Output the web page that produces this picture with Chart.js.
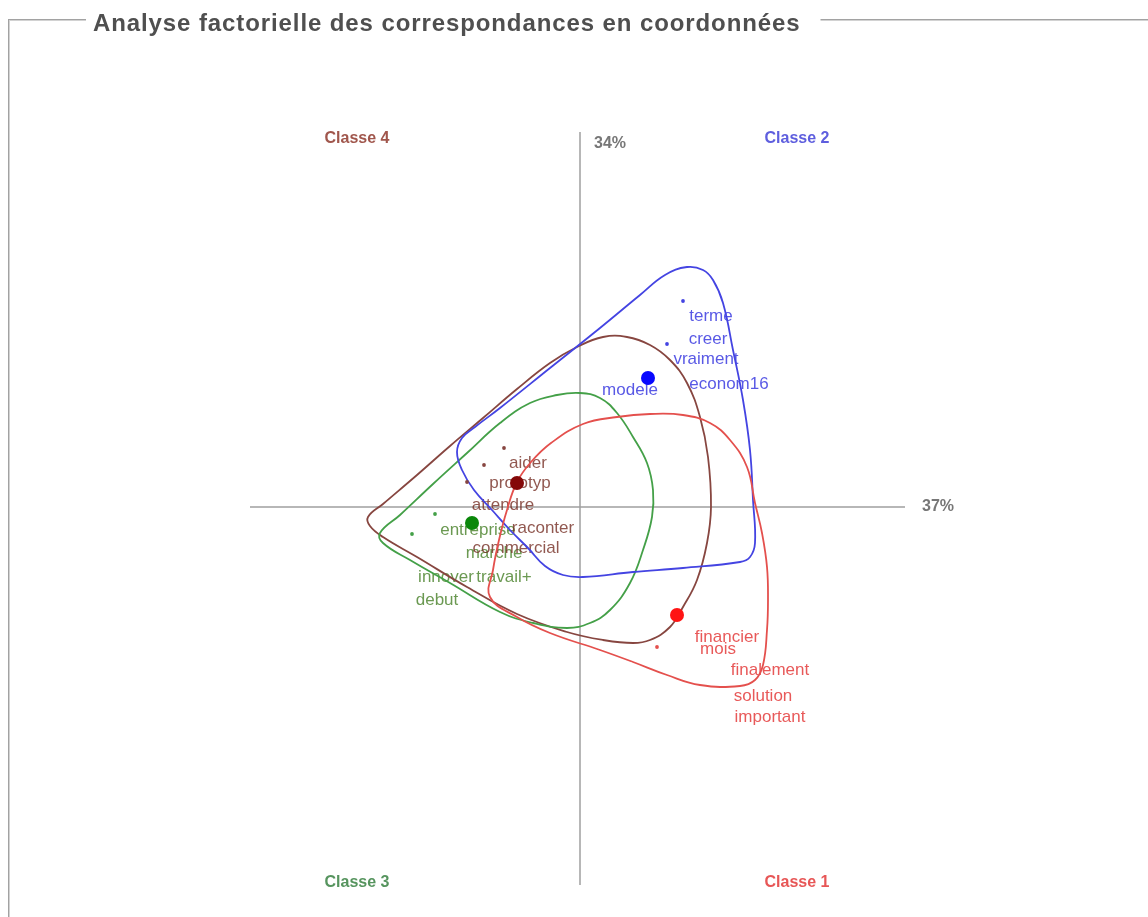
<!DOCTYPE html>
<html lang="fr">
<head>
<meta charset="utf-8">
<title>Analyse factorielle des correspondances</title>
<script src="https://cdn.jsdelivr.net/npm/chart.js@4.4.1/dist/chart.umd.min.js"></script>
<style>
  html, body { margin: 0; padding: 0; background: #fff; overflow: hidden; }
  canvas { display: block; }
</style>
</head>
<body>
<canvas id="afc" width="1148" height="917"></canvas>
<script>
// ---- data (factor coordinates) ----
const chartTitle = 'Analyse factorielle des correspondances en coordonnées';
const axisPercents = ['37%', '34%'];          // axis 1 (horizontal), axis 2 (vertical)
const xRange = [-0.66, 0.65];
const yRange = [-0.756, 0.75];

const classNames = ['Classe 1', 'Classe 2', 'Classe 3', 'Classe 4'];
const classNameX = [0.434, 0.434, -0.446, -0.446];
const classNameY = [-0.752, 0.736, -0.752, 0.736];

// class centres
const centreX = [0.194, 0.136, -0.216, -0.126];
const centreY = [-0.216, 0.258, -0.032, 0.048];

// Classe 1
const c1Words = ['financier', 'mois', 'finalement', 'solution', 'important'];
const c1WordX = [0.294, 0.276, 0.380, 0.366, 0.380];
const c1WordY = [-0.260, -0.284, -0.326, -0.378, -0.420];
const c1DotX = [0.154];
const c1DotY = [-0.280];
const c1HullX = [-0.180, -0.174, -0.162, -0.146, -0.126, -0.098, -0.058, 0.006, 0.074, 0.140, 0.206, 0.260, 0.300, 0.334, 0.350, 0.364, 0.374, 0.376, 0.374, 0.366, 0.350, 0.320, 0.240, 0.174, 0.106, 0.040, -0.060, -0.126];
const c1HullY = [-0.180, -0.126, -0.066, -0.006, 0.050, 0.090, 0.128, 0.166, 0.180, 0.186, 0.184, 0.168, 0.134, 0.080, 0.008, -0.052, -0.120, -0.186, -0.246, -0.316, -0.346, -0.358, -0.356, -0.336, -0.310, -0.286, -0.252, -0.220];

// Classe 2
const c2Words = ['terme', 'creer', 'vraiment', 'econom16', 'modele'];
const c2WordX = [0.262, 0.256, 0.252, 0.298, 0.100];
const c2WordY = [0.382, 0.336, 0.296, 0.246, 0.234];
const c2DotX = [0.206, 0.174];
const c2DotY = [0.412, 0.326];
const c2HullX = [-0.246, -0.236, -0.210, -0.160, -0.060, 0.040, 0.120, 0.170, 0.214, 0.246, 0.266, 0.286, 0.306, 0.326, 0.340, 0.346, 0.350, 0.340, 0.320, 0.206, 0.106, 0.006, -0.034, -0.070, -0.104, -0.140, -0.176, -0.212, -0.236];
const c2HullY = [0.110, 0.138, 0.160, 0.198, 0.278, 0.358, 0.424, 0.464, 0.480, 0.474, 0.454, 0.408, 0.314, 0.214, 0.114, 0.014, -0.072, -0.100, -0.110, -0.122, -0.130, -0.140, -0.136, -0.118, -0.082, -0.046, -0.006, 0.034, 0.074];

// Classe 3
const c3Words = ['entreprise', 'marche', 'innover', 'travail+', 'debut'];
const c3WordX = [-0.204, -0.172, -0.268, -0.152, -0.286];
const c3WordY = [-0.046, -0.092, -0.140, -0.140, -0.186];
const c3DotX = [-0.290, -0.336];
const c3DotY = [-0.014, -0.054];
const c3HullX = [-0.400, -0.360, -0.294, -0.226, -0.160, -0.100, -0.046, 0.000, 0.040, 0.074, 0.106, 0.134, 0.146, 0.144, 0.126, 0.100, 0.060, 0.020, -0.026, -0.094, -0.160, -0.260, -0.340, -0.394];
const c3HullY = [-0.052, -0.016, 0.046, 0.108, 0.168, 0.208, 0.224, 0.228, 0.218, 0.188, 0.140, 0.088, 0.034, -0.020, -0.086, -0.152, -0.206, -0.232, -0.242, -0.232, -0.210, -0.152, -0.106, -0.072];

// Classe 4
const c4Words = ['aider', 'prototyp', 'attendre', 'raconter', 'commercial'];
const c4WordX = [-0.104, -0.120, -0.154, -0.074, -0.128];
const c4WordY = [0.088, 0.048, 0.004, -0.042, -0.082];
const c4DotX = [-0.152, -0.192, -0.226];
const c4DotY = [0.118, 0.084, 0.050];
const c4HullX = [-0.424, -0.394, -0.326, -0.260, -0.194, -0.126, -0.060, -0.006, 0.046, 0.094, 0.140, 0.180, 0.214, 0.240, 0.256, 0.262, 0.254, 0.234, 0.206, 0.180, 0.140, 0.106, 0.046, -0.026, -0.126, -0.226, -0.326, -0.394, -0.420];
const c4HullY = [-0.020, 0.006, 0.064, 0.122, 0.178, 0.236, 0.288, 0.320, 0.340, 0.340, 0.324, 0.294, 0.248, 0.180, 0.100, 0.000, -0.072, -0.146, -0.200, -0.240, -0.266, -0.272, -0.266, -0.250, -0.214, -0.160, -0.100, -0.060, -0.038];

// ---- styles ----
const FONT = '"Liberation Sans", Arial, Helvetica, sans-serif';
const hullColors = ['#e4504d', '#4444e2', '#44a048', '#874640'];
const centreColors = ['#ff1414', '#0808ff', '#0a870a', '#840808'];
const wordColors = ['rgba(228,60,60,0.85)', 'rgba(60,60,225,0.85)', 'rgba(74,130,44,0.82)', 'rgba(118,46,36,0.8)'];
const nameColors = ['rgba(228,68,68,0.9)', 'rgba(76,76,218,0.9)', 'rgba(68,136,76,0.9)', 'rgba(150,68,56,0.9)'];

const classes = [
  { words: c1Words, wx: c1WordX, wy: c1WordY, dx: c1DotX, dy: c1DotY, hx: c1HullX, hy: c1HullY },
  { words: c2Words, wx: c2WordX, wy: c2WordY, dx: c2DotX, dy: c2DotY, hx: c2HullX, hy: c2HullY },
  { words: c3Words, wx: c3WordX, wy: c3WordY, dx: c3DotX, dy: c3DotY, hx: c3HullX, hy: c3HullY },
  { words: c4Words, wx: c4WordX, wy: c4WordY, dx: c4DotX, dy: c4DotY, hx: c4HullX, hy: c4HullY }
];

const toPoints = (xs, ys) => xs.map((x, i) => ({ x, y: ys[i] }));

// Closed smooth contour: pad with neighbours on both ends so every visible
// segment gets proper bezier control points, then hide the padding segments.
function hullDataset(xs, ys, color) {
  const pts = toPoints(xs, ys);
  const n = pts.length;
  const data = [pts[n - 1], ...pts, pts[0], pts[1]];
  return {
    type: 'scatter',
    data,
    showLine: true,
    tension: 0.42,
    borderColor: color,
    borderWidth: 1.8,
    pointRadius: 0,
    order: 3,
    segment: {
      borderColor: c => (c.p0DataIndex === 0 || c.p0DataIndex === n + 1) ? 'rgba(0,0,0,0)' : color
    }
  };
}

const datasets = [];
classes.forEach((cl, i) => {
  datasets.push({
    data: [{ x: centreX[i], y: centreY[i] }],
    pointRadius: 7,
    pointBackgroundColor: centreColors[i],
    pointBorderWidth: 0,
    order: 1
  });
  datasets.push({
    data: toPoints(cl.dx, cl.dy),
    pointRadius: 1.9,
    pointBackgroundColor: hullColors[i],
    pointBorderWidth: 0,
    order: 2
  });
  datasets.push(hullDataset(cl.hx, cl.hy, hullColors[i]));
});

// Frame with the title set into its top border
function drawFrame(ctx, w, h) {
  ctx.save();
  ctx.font = 'bold 24px ' + FONT;
  ctx.letterSpacing = '0.9px';
  const tx = 93;
  const tw = ctx.measureText(chartTitle).width;
  ctx.fillStyle = '#a2a2a2';
  ctx.fillRect(8, 19, 78, 1);
  ctx.fillRect(tx + tw + 20, 19, w, 1);
  ctx.fillRect(8, 19, 1, h);
  ctx.fillStyle = '#d2d2d2';
  ctx.fillRect(9, 20, 77, 1);
  ctx.fillRect(tx + tw + 20, 20, w, 1);
  ctx.fillRect(9, 20, 1, h);
  ctx.fillStyle = '#4f4f4f';
  ctx.textBaseline = 'middle';
  ctx.fillText(chartTitle, tx, 24);
  ctx.restore();
}

const afcDecor = {
  id: 'afcDecor',
  beforeDraw(chart) {
    drawFrame(chart.ctx, chart.width, chart.height);
  },
  beforeDatasetsDraw(chart) {
    const { ctx, chartArea, scales: { x, y } } = chart;
    const x0 = x.getPixelForValue(0);
    const y0 = y.getPixelForValue(0);
    ctx.save();

    // Factor axes
    ctx.strokeStyle = '#a0a0a0';
    ctx.lineWidth = 1.5;
    ctx.beginPath();
    ctx.moveTo(chartArea.left, y0);
    ctx.lineTo(chartArea.right, y0);
    ctx.moveTo(x0, chartArea.top);
    ctx.lineTo(x0, chartArea.bottom);
    ctx.stroke();

    ctx.font = 'bold 16px ' + FONT;
    ctx.fillStyle = '#777';
    ctx.textBaseline = 'middle';
    ctx.textAlign = 'left';
    ctx.fillText(axisPercents[0], chartArea.right + 17, y0);
    ctx.fillText(axisPercents[1], x0 + 14, chartArea.top + 12);

    // Class names in the corners
    ctx.textAlign = 'center';
    classNames.forEach((name, i) => {
      ctx.fillStyle = nameColors[i];
      ctx.fillText(name, x.getPixelForValue(classNameX[i]), y.getPixelForValue(classNameY[i]));
    });

    // Words of each class
    ctx.font = '17px ' + FONT;
    classes.forEach((cl, i) => {
      ctx.fillStyle = wordColors[i];
      cl.words.forEach((w, j) => {
        ctx.fillText(w, x.getPixelForValue(cl.wx[j]), y.getPixelForValue(cl.wy[j]));
      });
    });
    ctx.restore();
  }
};

new Chart(document.getElementById('afc'), {
  type: 'scatter',
  data: { datasets },
  options: {
    responsive: false,
    animation: false,
    events: [],
    layout: { padding: { left: 250, right: 243, top: 132, bottom: 32 } },
    scales: {
      x: { type: 'linear', display: false, min: xRange[0], max: xRange[1] },
      y: { type: 'linear', display: false, min: yRange[0], max: yRange[1] }
    },
    plugins: {
      legend: { display: false },
      title: { display: false },
      tooltip: { enabled: false }
    }
  },
  plugins: [afcDecor]
});
</script>
</body>
</html>
